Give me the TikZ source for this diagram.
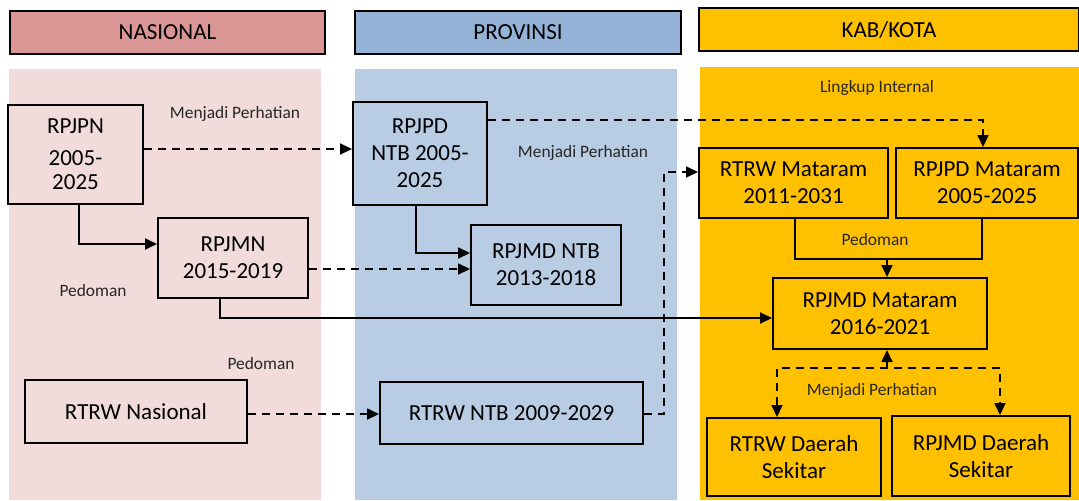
\documentclass[tikz,border=0pt]{standalone}
\usepackage{fontspec}
\setmainfont{Carlito}
\usetikzlibrary{arrows.meta}

\begin{document}
\begin{tikzpicture}[x=0.5pt, y=-0.5pt,
  >={Triangle[length=6pt,width=5.5pt]},
  head/.style={draw=black, line width=1pt, font=\fontsize{11.5}{13}\selectfont},
  box/.style={draw=black, line width=1pt, align=center, inner sep=0pt, font=\fontsize{11.5}{13.5}\selectfont},
  lbl/.style={font=\fontsize{8.7}{10}\selectfont, text=black!85},
  con/.style={line width=0.9pt, ->},
  dcon/.style={con, dash pattern=on 4pt off 3pt}]
\useasboundingbox (0,0) rectangle (1079,500);
\definecolor{nashead}{HTML}{DA9694}
\definecolor{nas}{HTML}{F2DCDB}
\definecolor{provhead}{HTML}{95B3D7}
\definecolor{prov}{HTML}{B8CCE4}
\definecolor{kab}{HTML}{FFC000}
\fill[nas] (9,69) rectangle (321,500);
\fill[prov] (355,69) rectangle (677,500);
\fill[kab] (700,67) rectangle (1079,500);
\node[head, fill=nashead, minimum width=157.5pt, minimum height=21.5pt] (hnas) at (167.5,32.5) {NASIONAL};
\node[head, fill=provhead, minimum width=163pt, minimum height=21.5pt] (hprov) at (518,32.5) {PROVINSI};
\node[head, fill=kab, minimum width=190pt, minimum height=21.5pt] (hkab) at (889,29.5) {KAB/KOTA};
\node[box, fill=nas, minimum width=67.5pt, minimum height=49.5pt, font=\fontsize{11.5}{12}\selectfont] (rpjpn) at (75.5,154.5) {RPJPN\\[4pt]2005-\\2025};
\node[box, fill=nas, minimum width=75pt, minimum height=40pt] (rpjmn) at (233,258) {RPJMN\\2015-2019};
\node[box, fill=nas, minimum width=111pt, minimum height=31.5pt] (rtrwn) at (136,411.5) {RTRW Nasional};
\node[box, fill=prov, minimum width=67pt, minimum height=51.5pt] (rpjpdntb) at (420,153.5) {RPJPD\\NTB 2005-\\2025};
\node[box, fill=prov, minimum width=75pt, minimum height=40pt] (rpjmdntb) at (546,265) {RPJMD NTB\\2013-2018};
\node[box, fill=prov, minimum width=131.5pt, minimum height=31pt] (rtrwntb) at (511.5,413) {RTRW NTB 2009-2029};
\node[box, fill=kab, minimum width=94.5pt, minimum height=35pt] (rtrwmat) at (793.5,183) {RTRW Mataram\\2011-2031};
\node[box, fill=kab, minimum width=91pt, minimum height=35pt] (rpjpdmat) at (987,183) {RPJPD Mataram\\2005-2025};
\node[box, fill=kab, minimum width=107pt, minimum height=35.5pt] (rpjmdmat) at (880,313.5) {RPJMD Mataram\\2016-2021};
\node[box, fill=kab, minimum width=87pt, minimum height=39pt] (rtrwds) at (794,457) {RTRW Daerah\\Sekitar};
\node[box, fill=kab, minimum width=89pt, minimum height=40pt] (rpjmdds) at (981,456) {RPJMD Daerah\\Sekitar};
\node[lbl] (mp1) at (235,114) {Menjadi Perhatian};
\node[lbl] (mp2) at (583,153) {Menjadi Perhatian};
\node[lbl] (pd1) at (93,291) {Pedoman};
\node[lbl] (pd2) at (261,364) {Pedoman};
\node[lbl] (li) at (877,88) {Lingkup Internal};
\node[lbl] (pd3) at (875,240) {Pedoman};
\node[lbl] (mp3) at (872,391) {Menjadi Perhatian};
\coordinate (k0) at (143,149);
\coordinate (k1) at (79,244);
\coordinate (k2) at (308,269);
\coordinate (k3) at (220,318);
\coordinate (k4) at (416,253);
\coordinate (k5) at (983,120);
\coordinate (k6) at (247,414);
\coordinate (k7) at (664,172);
\coordinate (k8) at (795,259);
\coordinate (k9) at (982,259);
\coordinate (k10) at (887,259);
\coordinate (k11) at (777,368);
\coordinate (k12) at (1000,368);
\coordinate (k13) at (887,368);
\draw[dcon] (rpjpn.east |- k0) -- (rpjpdntb.west |- k0);
\draw[con] (rpjpn.south -| k1) |- (rpjmn.west |- k1);
\draw[dcon] (rpjmn.east |- k2) -- (rpjmdntb.west |- k2);
\draw[con] (rpjmn.south -| k3) |- (rpjmdmat.west |- k3);
\draw[con] (rpjpdntb.south -| k4) |- (rpjmdntb.west |- k4);
\draw[dcon] (rpjpdntb.east |- k5) -| (rpjpdmat.north -| k5);
\draw[dcon] (rtrwn.east |- k6) -- (rtrwntb.west |- k6);
\draw[dcon] (rtrwntb.east |- k6) -| (k7) -- (rtrwmat.west |- k7);
\draw[line width=0.9pt] (rtrwmat.south -| k8) -- (k8) -- (k9) -- (rpjpdmat.south -| k9);
\draw[con] (k10) -- (rpjmdmat.north -| k10);
\draw[dcon] (k13) -- (rpjmdmat.south -| k13);
\draw[dcon, <->] (rtrwds.north -| k11) -- (k11) -- (k12) -- (rpjmdds.north -| k12);
\end{tikzpicture}
\end{document}
